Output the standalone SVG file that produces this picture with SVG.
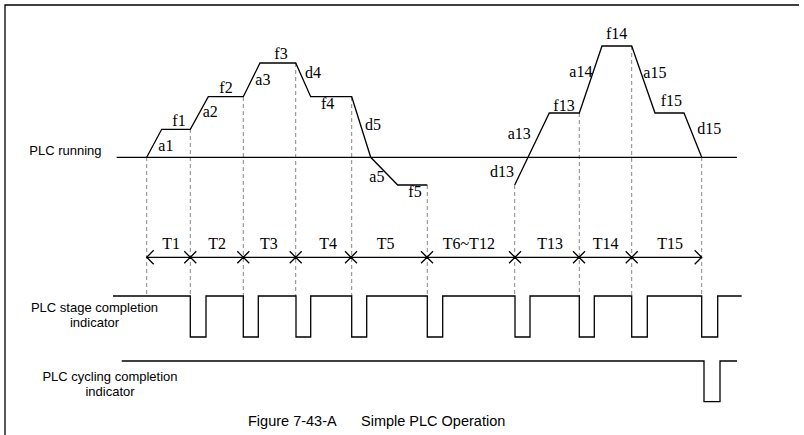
<svg xmlns="http://www.w3.org/2000/svg" width="804" height="435" viewBox="0 0 804 435">
<style>
.ln{fill:none;stroke:#000;stroke-width:1.3}
.ds{fill:none;stroke:#888;stroke-width:1;stroke-dasharray:4 3}
.sf{font-family:"Liberation Serif","Times New Roman",serif;font-size:16px;fill:#000}
.ss{font-family:"Liberation Sans",Arial,sans-serif;font-size:13px;fill:#000}
.cap{font-family:"Liberation Sans",Arial,sans-serif;font-size:14.5px;fill:#000}
</style>
<rect width="804" height="435" fill="#fff"/>
<g id="frame"><path class="ln" d="M5,435 V5 H799"/></g>
<g id="guides">
<path class="ds" d="M146.7,157 V296 M190.3,129 V296 M243.3,97 V296 M295.7,63 V296 M351.7,97 V296 M427.3,185 V296 M514.7,185 V296 M579.3,113 V296 M631.7,46 V296 M701.7,157 V296"/>
</g>
<g id="plc-running">
<line class="ln" x1="116.7" y1="157.3" x2="737" y2="157.3"/>
<path class="ln" d="M146.7,157.3 L161.7,129.3 H190.3 L208.3,96.7 H243.3 L260,63 H295.7 L310.7,96.7 H351.7 L370.7,157.3 L397.7,185 H427.3"/>
<path class="ln" d="M514.7,185 L549.3,113 H579.3 L602,46 H631.7 L655,113 H684 L701.7,157.3"/>
<text class="ss" x="29.3" y="155">PLC running</text>
</g>
<g id="wave-labels" class="sf">
<text x="158.3" y="150.7">a1</text>
<text x="172.3" y="125.7">f1</text>
<text x="202.7" y="117.3">a2</text>
<text x="219.3" y="93.3">f2</text>
<text x="255.3" y="85">a3</text>
<text x="274.3" y="59.3">f3</text>
<text x="305" y="78.3">d4</text>
<text x="321" y="109">f4</text>
<text x="365" y="130">d5</text>
<text x="369.3" y="181.7">a5</text>
<text x="408.3" y="196.7">f5</text>
<text x="490" y="176.7">d13</text>
<text x="507.7" y="139.3">a13</text>
<text x="553.3" y="111">f13</text>
<text x="569.3" y="76.7">a14</text>
<text x="606" y="39.3">f14</text>
<text x="643.3" y="78.3">a15</text>
<text x="660.7" y="106">f15</text>
<text x="697.3" y="134.3">d15</text>
</g>
<g id="time-axis">
<line class="ln" x1="146.7" y1="257.3" x2="701.7" y2="257.3"/>
<path class="ln" d="M153.7,250.3 L146.7,257.3 L153.7,264.3 M694.7,250.3 L701.7,257.3 L694.7,264.3"/>
<path class="ln" d="M184.3,251.3 l12,12 m0,-12 l-12,12 M237.3,251.3 l12,12 m0,-12 l-12,12 M289.7,251.3 l12,12 m0,-12 l-12,12 M345,251.3 l12,12 m0,-12 l-12,12 M421,251.3 l12,12 m0,-12 l-12,12 M509,251.3 l12,12 m0,-12 l-12,12 M573,251.3 l12,12 m0,-12 l-12,12 M625.7,251.3 l12,12 m0,-12 l-12,12"/>
<g class="sf">
<text x="162.3" y="249">T1</text>
<text x="208.3" y="249">T2</text>
<text x="260" y="249">T3</text>
<text x="319.3" y="249">T4</text>
<text x="376.7" y="249">T5</text>
<text x="442.7" y="249">T6~T12</text>
<text x="537.3" y="249">T13</text>
<text x="592.7" y="249">T14</text>
<text x="657.3" y="249">T15</text>
</g>
</g>
<g id="stage-indicator">
<path class="ln" d="M113,296 H190.3 V337 H206 V296 H243.3 V337 H258.3 V296 H296 V337 H310.7 V296 H351.7 V337 H366.7 V296 H427.3 V337 H442.7 V296 H515 V337 H530 V296 H579.3 V337 H594.3 V296 H631.7 V337 H647.3 V296 H701.7 V337 H717.7 V296 H741.7"/>
<text class="ss" x="94.5" y="312" text-anchor="middle">PLC stage completion</text>
<text class="ss" x="94.5" y="327" text-anchor="middle">indicator</text>
</g>
<g id="cycling-indicator">
<path class="ln" d="M121.7,361 H704 V401.7 H720 V361 H737"/>
<text class="ss" x="110" y="381" text-anchor="middle">PLC cycling completion</text>
<text class="ss" x="110" y="396" text-anchor="middle">indicator</text>
</g>
<g id="caption">
<text class="cap" y="426"><tspan x="248">Figure 7-43-A</tspan><tspan x="361">Simple PLC Operation</tspan></text>
</g>
</svg>
